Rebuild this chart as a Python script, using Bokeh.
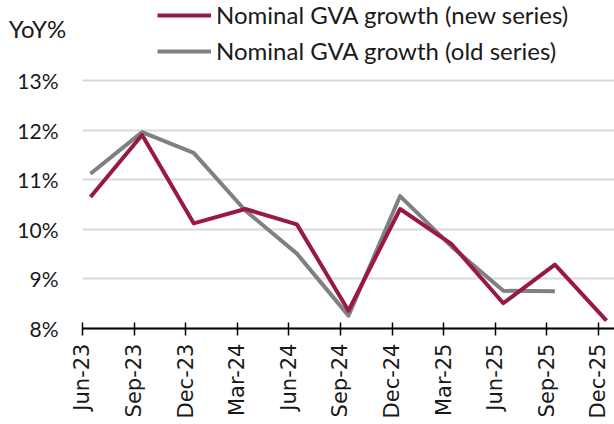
import math
from bokeh.plotting import figure
from bokeh.models import (Range1d, FixedTicker, Legend, LegendItem, Label)
from bokeh.embed import file_html
from bokeh.resources import INLINE

# ---- data ----
quarters = ["Jun-23", "Sep-23", "Dec-23", "Mar-24", "Jun-24", "Sep-24",
            "Dec-24", "Mar-25", "Jun-25", "Sep-25", "Dec-25"]
new_series = [10.65, 11.90, 10.12, 10.41, 10.10, 8.36, 10.41, 9.70, 8.51, 9.29, 8.16]
old_series = [11.12, 11.96, 11.54, 10.38, 9.51, 8.26, 10.67, 9.65, 8.76, 8.75]
y_ticks = [8, 9, 10, 11, 12, 13]

new_label = "Nominal GVA growth (new series)"
old_label = "Nominal GVA growth (old series)"
unit_label = "YoY%"

NEW_COLOR = "#991848"
OLD_COLOR = "#808080"

# points sit half a month after each quarter tick
offset = 0.155
x_new = [i + offset for i in range(len(new_series))]
x_old = [i + offset for i in range(len(old_series))]

X_START, X_END = -1.589, 10.31
Y_START, Y_END = 6.065, 14.613
Y_BASE = y_ticks[0]

p = figure(width=614, height=424, output_backend="svg", toolbar_location=None,
           x_range=Range1d(X_START, X_END),
           y_range=Range1d(Y_START, Y_END),
           min_border_left=0, min_border_right=0, min_border_top=0,
           min_border_bottom=0)
p.outline_line_color = None
p.background_fill_color = "white"
p.border_fill_color = "white"

r_old = p.line(x_old, old_series, line_color=OLD_COLOR, line_width=4,
               line_join="round")
r_new = p.line(x_new, new_series, line_color=NEW_COLOR, line_width=4,
               line_join="round")

# y axis drawn at the first quarter tick
p.yaxis.fixed_location = 0
p.yaxis.ticker = FixedTicker(ticks=y_ticks)
p.yaxis.major_label_overrides = {t: f"{t}%" for t in y_ticks}
p.yaxis.axis_line_color = None
p.yaxis.major_tick_line_color = None
p.yaxis.minor_tick_line_color = None
p.yaxis.major_tick_out = 0
p.yaxis.major_tick_in = 0
p.yaxis.major_label_standoff = 24
p.yaxis.major_label_text_font = "Lato"
p.yaxis.major_label_text_font_size = "21px"
p.yaxis.major_label_text_color = "#1a1a1a"

# x axis drawn at the 8% baseline
p.xaxis.fixed_location = Y_BASE
p.xaxis.bounds = (0, X_END)
p.xaxis.ticker = FixedTicker(ticks=list(range(len(quarters))))
p.xaxis.major_label_overrides = {i: q for i, q in enumerate(quarters)}
p.xaxis.major_label_orientation = math.pi / 2
p.xaxis.axis_line_color = "black"
p.xaxis.axis_line_width = 2
p.xaxis.major_tick_line_color = "black"
p.xaxis.major_tick_line_width = 1.5
p.xaxis.major_tick_in = 6
p.xaxis.major_tick_out = 7
p.xaxis.minor_tick_line_color = None
p.xaxis.major_label_standoff = 8
p.xaxis.major_label_text_font = "DejaVu Sans"
p.xaxis.major_label_text_font_size = "21px"
p.xaxis.major_label_text_color = "#1a1a1a"

# grid
p.xgrid.grid_line_color = None
p.ygrid.ticker = FixedTicker(ticks=y_ticks)
p.ygrid.cross_bounds = (0, X_END)
p.ygrid.grid_line_color = "#D9D9D9"
p.ygrid.grid_line_width = 2

# legend
legend = Legend(items=[LegendItem(label=new_label, renderers=[r_new]),
                       LegendItem(label=old_label, renderers=[r_old])],
                location=(157, 359), orientation="vertical",
                padding=0, margin=0, spacing=7,
                glyph_width=54, glyph_height=24, label_height=24,
                label_standoff=5,
                label_text_font="Lato", label_text_font_size="24px",
                label_text_color="#1a1a1a",
                border_line_color=None, background_fill_alpha=0)
p.add_layout(legend, "center")

# y unit label
p.add_layout(Label(x=-1.43, y=14.05, text=unit_label, text_font="Lato",
                   text_font_size="24px", text_color="#1a1a1a",
                   text_baseline="middle"))

open("out.html", "w").write(file_html(p, INLINE))
